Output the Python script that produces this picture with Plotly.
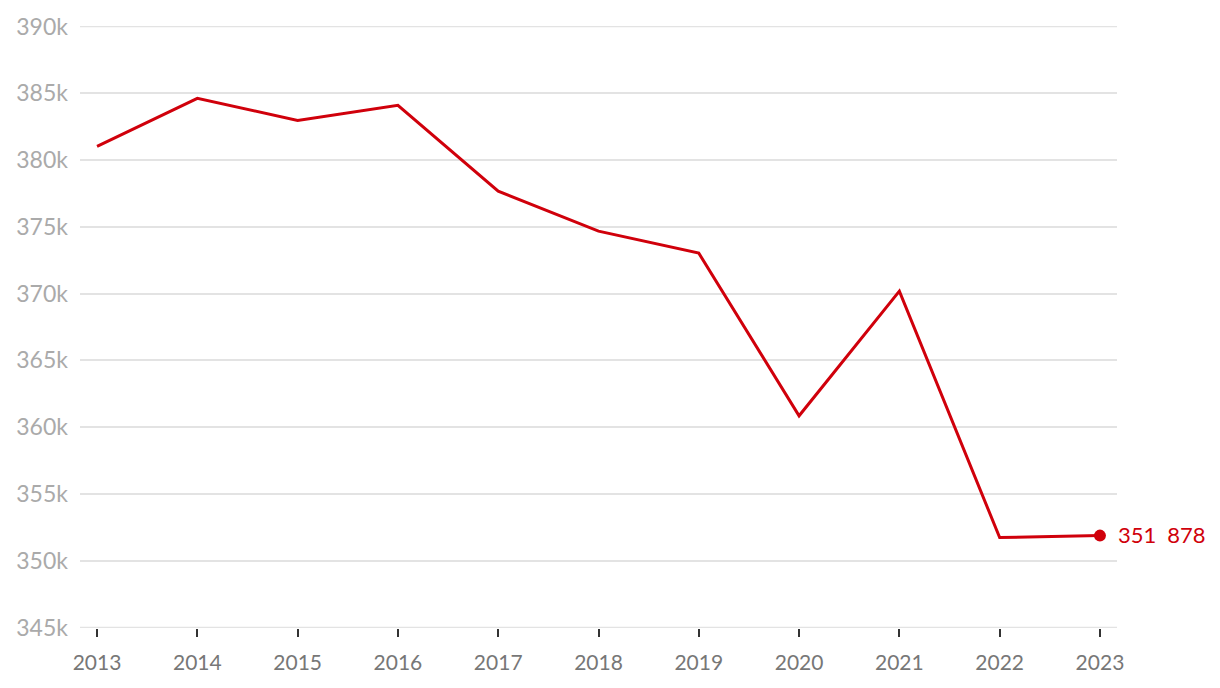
import plotly.graph_objects as go

years = [2013, 2014, 2015, 2016, 2017, 2018, 2019, 2020, 2021, 2022, 2023]
values = [381030, 384620, 382970, 384100, 377670, 374680, 373030, 360850, 370190, 351730, 351878]
y_ticks = [345000, 350000, 355000, 360000, 365000, 370000, 375000, 380000, 385000, 390000]
y_labels = ["345k", "350k", "355k", "360k", "365k", "370k", "375k", "380k", "385k", "390k"]
last_label = "351\u2002878"

red = "#d0000b"
grid_color = "#e3e3e3"
fig = go.Figure()
fig.add_trace(go.Scatter(x=years, y=values, mode="lines",
                         line=dict(color=red, width=3), hoverinfo="skip"))
fig.add_trace(go.Scatter(x=[years[-1]], y=[values[-1]], mode="markers",
                         marker=dict(color=red, size=12),
                         cliponaxis=False, hoverinfo="skip"))
fig.add_annotation(x=years[-1], y=values[-1], text=last_label, showarrow=False,
                   xanchor="left", yanchor="middle", xshift=16, yshift=1,
                   font=dict(color=red, size=22, family="Lato"))

# edge grid lines (plotly omits grid lines lying on the plot border)
for yv in (y_ticks[0], y_ticks[-1]):
    fig.add_shape(type="line", xref="paper", x0=0, x1=1, yref="y", y0=yv, y1=yv,
                  line=dict(color=grid_color, width=1.5), layer="below")

fig.update_layout(
    width=1212, height=680,
    margin=dict(l=72, r=103, t=18, b=60),
    plot_bgcolor="white", paper_bgcolor="white",
    showlegend=False,
    font=dict(family="Lato", size=19),
    xaxis=dict(range=[2012.83, 2023.17], tickvals=years,
               ticktext=[str(y) for y in years],
               showgrid=False, zeroline=False, automargin=False,
               ticks="outside", ticklen=8, tickwidth=2, tickcolor="#333333",
               ticklabelstandoff=8,
               tickfont=dict(color="#777777", size=21), showline=False),
    yaxis=dict(range=[344960, 390040], tickvals=y_ticks, ticktext=y_labels,
               showgrid=True, gridcolor=grid_color, gridwidth=1.5,
               zeroline=False, ticks="", ticklabelstandoff=11, automargin=False,
               tickfont=dict(color="#aaaaaa", size=23)),
)
fig.write_html("out.html")
